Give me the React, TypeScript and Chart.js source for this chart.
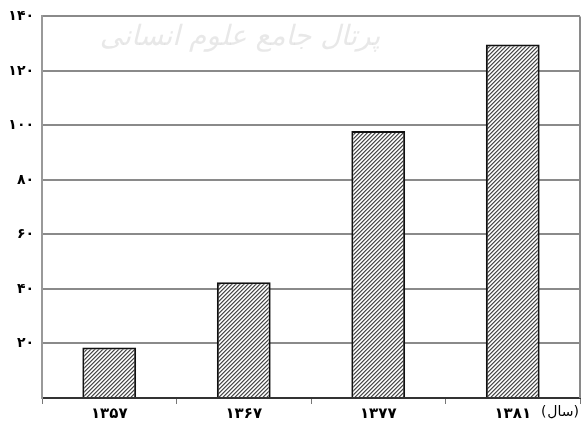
import React, { useEffect, useRef } from "react";
import { Chart, registerables } from "chart.js";

Chart.register(...registerables);

const categories = ["۱۳۵۷", "۱۳۶۷", "۱۳۷۷", "۱۳۸۱"];
const values = [18.5, 42.5, 98, 129.7];
const yTickLabels: Record<number, string> = {
  20: "۲۰",
  40: "۴۰",
  60: "۶۰",
  80: "۸۰",
  100: "۱۰۰",
  120: "۱۲۰",
  140: "۱۴۰",
};
const xAxisTitle = "سال";
const watermark = "پرتال جامع علوم انسانی";

function makePattern(): CanvasPattern | string {
  const c = document.createElement("canvas");
  c.width = 4;
  c.height = 4;
  const g = c.getContext("2d");
  if (!g) return "#999";
  g.fillStyle = "#ffffff";
  g.fillRect(0, 0, 4, 4);
  for (let i = 0; i < 4; i++) {
    g.fillStyle = "#4a4a4a";
    g.fillRect(i, 3 - i, 1, 1);
    g.fillStyle = "#9a9a9a";
    g.fillRect((i + 1) % 4, 3 - i, 1, 1);
    g.fillStyle = "#dddddd";
    g.fillRect((i + 3) % 4, 3 - i, 1, 1);
  }
  const p = g.createPattern(c, "repeat");
  return p || "#999";
}

export default function App() {
  const ref = useRef<HTMLCanvasElement>(null);
  useEffect(() => {
    document.body.style.margin = "0";
    const canvas = ref.current;
    if (!canvas) return;
    const extras = {
      id: "extras",
      beforeDatasetsDraw(chart: any) {
        const { ctx, chartArea } = chart;
        ctx.save();
        ctx.fillStyle = "rgba(205,205,205,0.45)";
        ctx.font = "italic 28px 'DejaVu Sans'";
        ctx.textAlign = "center";
        ctx.textBaseline = "middle";
        ctx.fillText(watermark, 240, 38);
        ctx.strokeStyle = "#8a8a8a";
        ctx.lineWidth = 2;
        ctx.beginPath();
        ctx.moveTo(chartArea.right, chartArea.top);
        ctx.lineTo(chartArea.right, chartArea.bottom);
        ctx.stroke();
        ctx.restore();
      },
      afterDraw(chart: any) {
        const { ctx } = chart;
        ctx.save();
        ctx.fillStyle = "#000";
        ctx.font = "14px 'DejaVu Sans'";
        ctx.textAlign = "left";
        ctx.textBaseline = "middle";
        const wO = ctx.measureText("(").width;
        const wT = ctx.measureText(xAxisTitle).width;
        const wC = ctx.measureText(")").width;
        const x0 = 578 - (wO + wT + wC);
        const y = 412;
        ctx.fillText("(", x0, y);
        ctx.fillText(xAxisTitle, x0 + wO + 1, y);
        ctx.fillText(")", x0 + wO + wT + 1, y);
        ctx.restore();
      },
    };
    const chart = new Chart(canvas, {
      type: "bar",
      data: {
        labels: categories,
        datasets: [
          {
            data: values,
            backgroundColor: makePattern() as any,
            borderColor: "#111",
            borderWidth: 2,
            barPercentage: 0.4,
            categoryPercentage: 1,
          },
        ],
      },
      options: {
        animation: false,
        responsive: false,
        devicePixelRatio: 1,
        layout: { padding: { left: 0, right: 2, top: 14, bottom: 0 } },
        plugins: { legend: { display: false }, tooltip: { enabled: false } },
        scales: {
          x: {
            offset: true,
            grid: {
              display: true,
              offset: true,
              drawOnChartArea: false,
              color: "#777",
              lineWidth: 1,
              tickLength: 6,
            },
            border: { color: "#333", width: 2 },
            ticks: {
              color: "#000",
              font: { family: "DejaVu Sans", size: 15, weight: "bold" },
              padding: 1,
            },
            afterFit(scale: any) {
              scale.height = 29;
            },
          },
          y: {
            min: 0,
            max: 140,
            ticks: {
              stepSize: 20,
              color: "#000",
              font: { family: "DejaVu Sans", size: 14, weight: "bold" },
              padding: 8,
              callback: (v: any) => yTickLabels[v as number] ?? "",
            },
            grid: { color: "#8a8a8a", lineWidth: 2, drawTicks: false },
            border: { color: "#999", width: 2 },
            afterFit(scale: any) {
              scale.width = 42;
            },
          },
        },
      },
      plugins: [extras],
    });
    return () => chart.destroy();
  }, []);
  return <canvas ref={ref} width={582} height={427} style={{ display: "block" }} />;
}
